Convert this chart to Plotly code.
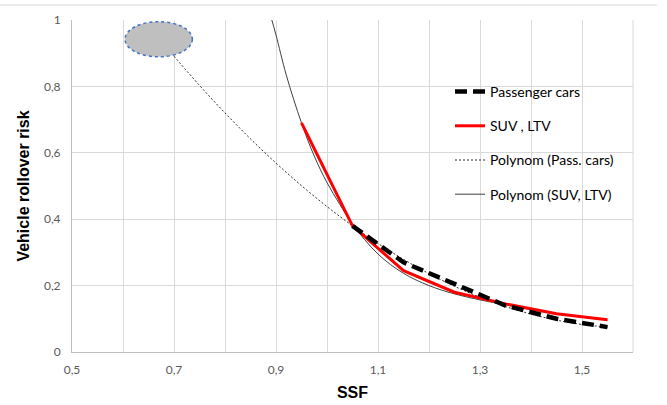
import plotly.graph_objects as go

# Data
pass_x = [1.05, 1.15, 1.25, 1.35, 1.45, 1.55]
pass_y = [0.38, 0.27, 0.205, 0.14, 0.10, 0.075]

suv_x = [0.95, 1.05, 1.15, 1.25, 1.35, 1.45, 1.55]
suv_y = [0.69, 0.38, 0.245, 0.18, 0.145, 0.115, 0.097]

poly_pass_x = [0.70, 0.75, 0.80, 0.85, 0.90, 0.95, 1.00, 1.05, 1.10, 1.15,
               1.20, 1.25, 1.30, 1.35, 1.40, 1.45, 1.50, 1.55]
poly_pass_y = [0.891, 0.803, 0.720, 0.642, 0.569, 0.501, 0.438, 0.380, 0.327, 0.279,
               0.236, 0.198, 0.165, 0.137, 0.114, 0.096, 0.083, 0.075]

poly_suv_x = [0.89, 0.90, 0.92, 0.95, 0.975, 1.00, 1.025, 1.05, 1.10, 1.15,
              1.20, 1.25, 1.30, 1.35, 1.40, 1.45, 1.50, 1.55]
poly_suv_y = [1.01, 0.955, 0.835, 0.69, 0.59, 0.51, 0.445, 0.385, 0.295, 0.237,
              0.20, 0.175, 0.157, 0.142, 0.128, 0.116, 0.105, 0.096]

names = ["Passenger cars", "SUV , LTV", "Polynom (Pass. cars)", "Polynom (SUV, LTV)"]

x_tick_vals = [0.5, 0.7, 0.9, 1.1, 1.3, 1.5]
y_tick_vals = [0, 0.2, 0.4, 0.6, 0.8, 1]

fig = go.Figure()

fig.add_trace(go.Scatter(
    x=poly_pass_x, y=poly_pass_y, mode="lines", name=names[2],
    line=dict(color="#303030", width=1, dash="2px,2px", shape="spline"),
    legendgroup="c", legendrank=3))
fig.add_trace(go.Scatter(
    x=poly_suv_x, y=poly_suv_y, mode="lines", name=names[3],
    line=dict(color="#404040", width=1, shape="spline"),
    legendgroup="d", legendrank=4))
fig.add_trace(go.Scatter(
    x=suv_x, y=suv_y, mode="lines", name=names[1],
    line=dict(color="#ff0000", width=3),
    legendgroup="b", legendrank=2))
fig.add_trace(go.Scatter(
    x=pass_x, y=pass_y, mode="lines", name=names[0],
    line=dict(color="#000000", width=4.5, dash="12px,6px"),
    legendgroup="a", legendrank=1))

L, R, T, B = 72, 34, 20, 53
W, H = 667, 405
pw = W - L - R
ph = H - T - B

def px_x(p):
    return (p - L) / pw

def px_y(p):
    return (H - B - p) / ph

shapes = [
    # outer top line of the chart frame
    dict(type="line", xref="paper", yref="paper", x0=px_x(0), x1=px_x(657),
         y0=px_y(5), y1=px_y(5), line=dict(color="#d9d9d9", width=1)),
    # right border of plot area
    dict(type="line", xref="paper", yref="paper", x0=1, x1=1, y0=0, y1=1,
         line=dict(color="#d9d9d9", width=1), layer="below"),
    # legend background box
    dict(type="rect", xref="paper", yref="paper", x0=px_x(430), x1=px_x(631),
         y0=px_y(212), y1=px_y(70), fillcolor="white", line=dict(width=0),
         layer="between"),
    # grey ellipse
    dict(type="circle", xref="x", yref="y", x0=0.604, x1=0.736, y0=0.889, y1=0.995,
         fillcolor="#bfbfbf", line=dict(color="#4472c4", width=1.5, dash="dot")),
]

fig.update_layout(
    width=W, height=H,
    margin=dict(l=L, r=R, t=T, b=B, autoexpand=False),
    paper_bgcolor="white", plot_bgcolor="white",
    separators=", ",
    shapes=shapes,
    showlegend=True,
    legend=dict(x=px_x(450), y=px_y(76), xanchor="left", yanchor="top",
                bgcolor="rgba(0,0,0,0)", traceorder="grouped", tracegroupgap=13,
                font=dict(family="Lato", size=14, color="#000000"),
                itemwidth=30),
    xaxis=dict(range=[0.5, 1.6], tickvals=x_tick_vals,
               tickformat=".1f", automargin=False,
               showgrid=True, gridcolor="#d9d9d9", gridwidth=1,
               minor=dict(dtick=0.1, tick0=0.5, showgrid=True, gridcolor="#d9d9d9", gridwidth=1),
               showline=True, linecolor="#bfbfbf", linewidth=1,
               ticks="", zeroline=False, ticklabelstandoff=7,
               tickfont=dict(family="Lato", size=12, color="#595959"),
               title=dict(text="<b>SSF</b>", standoff=10,
                          font=dict(family="Liberation Sans", size=16, color="#000000"))),
    yaxis=dict(range=[0, 1], tickvals=y_tick_vals, automargin=False,
               showgrid=True, gridcolor="#d9d9d9", gridwidth=1,
               showline=True, linecolor="#bfbfbf", linewidth=1,
               ticks="", zeroline=False, ticklabelstandoff=8,
               tickfont=dict(family="Lato", size=12, color="#595959"),
               title=dict(text="<b>Vehicle rollover risk</b>", standoff=10,
                          font=dict(family="Liberation Sans", size=16, color="#000000"))),
)

fig.write_html("out.html", config={"displayModeBar": False},
               post_script="document.body.style.margin='0';")
